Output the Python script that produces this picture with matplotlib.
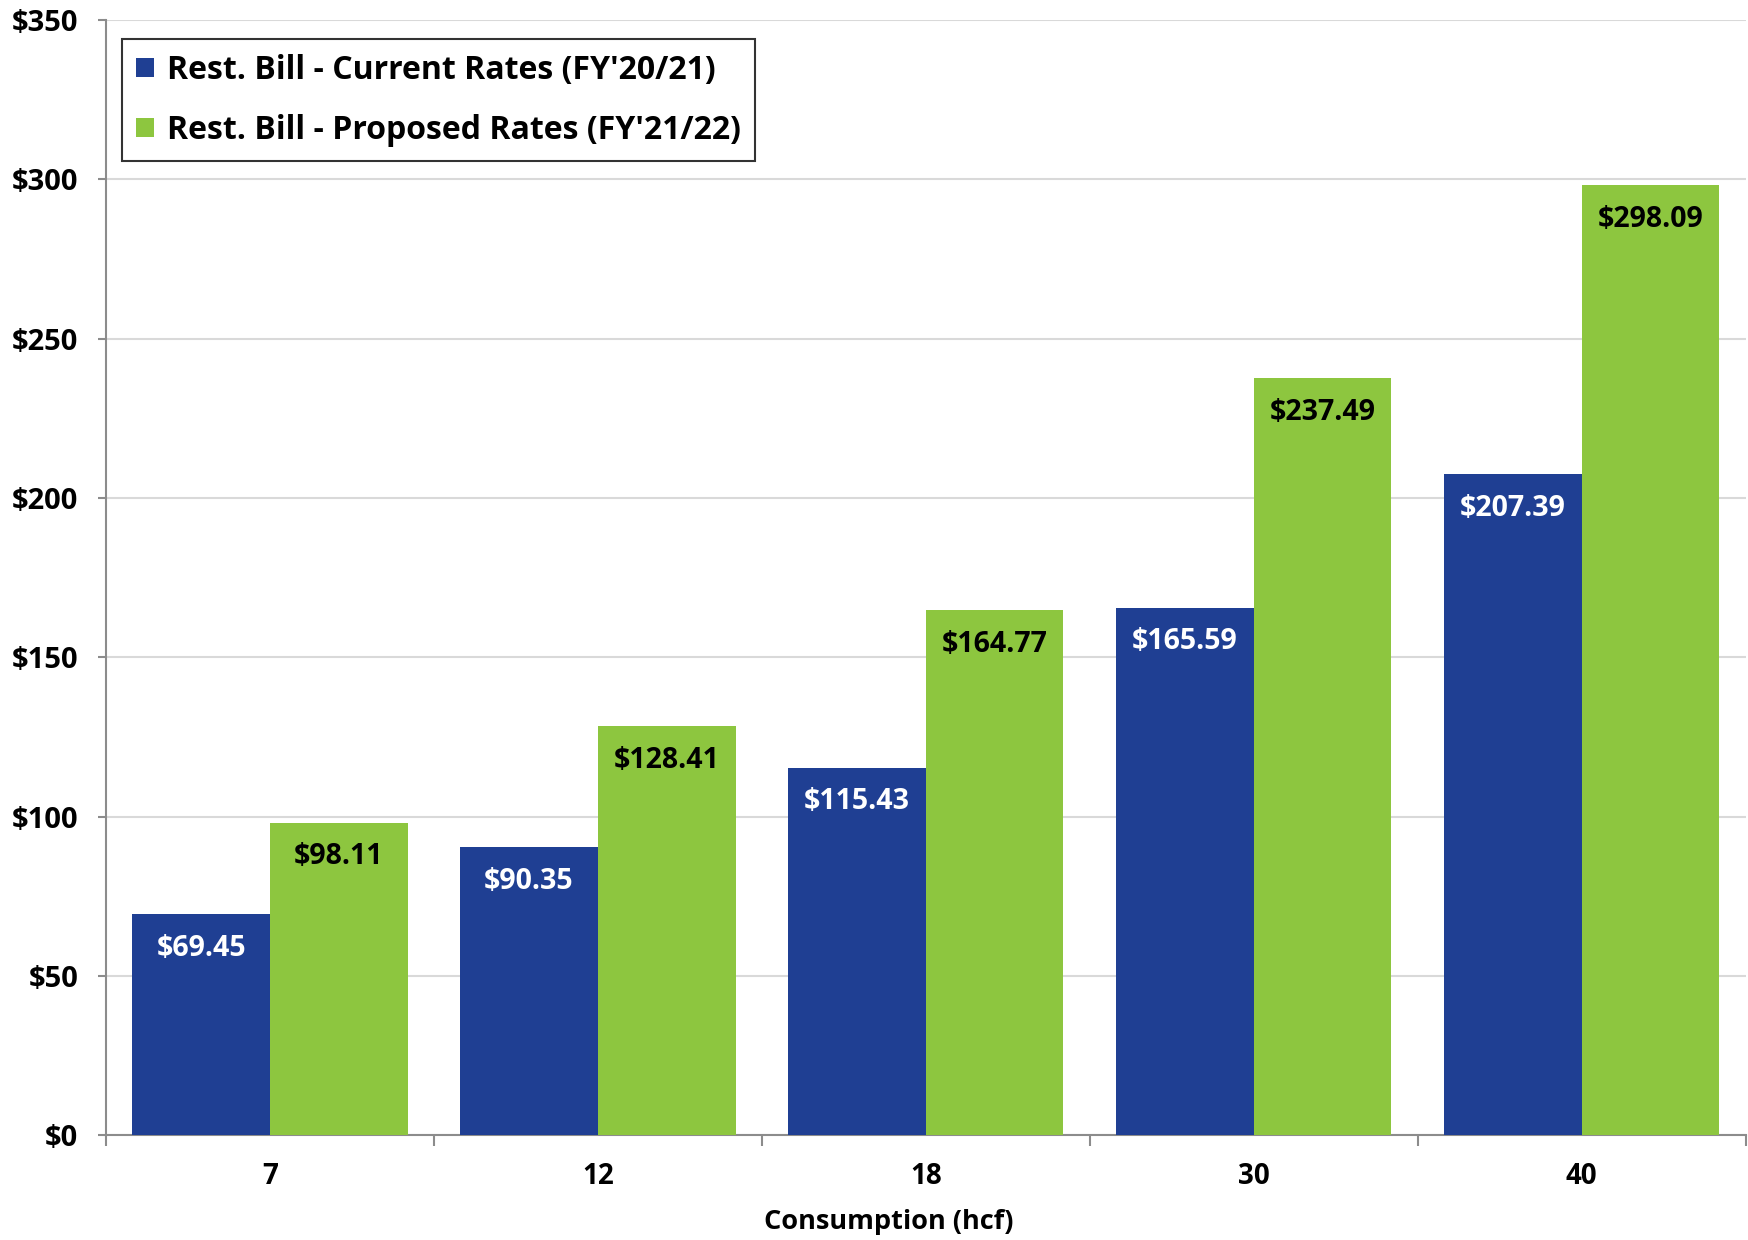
import numpy as np
import matplotlib
matplotlib.use('Agg')
import matplotlib.pyplot as plt

# data
categories = ['7', '12', '18', '30', '40']
current_rates = [69.45, 90.35, 115.43, 165.59, 207.39]
proposed_rates = [98.11, 128.41, 164.77, 237.49, 298.09]
series_names = ["Rest. Bill - Current Rates (FY'20/21)",
                "Rest. Bill - Proposed Rates (FY'21/22)"]
y_ticks = [0, 50, 100, 150, 200, 250, 300, 350]

blue = '#1F3F93'
green = '#8DC63F'
axis_grey = '#8C8C8C'

plt.rcParams['font.family'] = ['Open Sans', 'DejaVu Sans']
plt.rcParams['font.weight'] = 'bold'

fig = plt.figure(figsize=(17.49, 12.4), dpi=100)
ax = fig.add_axes([0.0606, 0.0843, 0.9374, 0.8997])

x = np.arange(len(categories))
w = 0.42
b1 = ax.bar(x - w / 2, current_rates, w, color=blue, label=series_names[0], zorder=3)
b2 = ax.bar(x + w / 2, proposed_rates, w, color=green, label=series_names[1], zorder=3)

for bars, vals, col in [(b1, current_rates, 'white'), (b2, proposed_rates, 'black')]:
    for rect, v in zip(bars, vals):
        ax.annotate(f'${v:.2f}', (rect.get_x() + rect.get_width() / 2, v),
                    xytext=(0, -34), textcoords='offset pixels',
                    ha='center', va='center', color=col,
                    fontsize=20.5, fontweight='bold', zorder=4)

ax.set_xlim(-0.5, len(categories) - 0.5)
ax.set_ylim(0, 350)
ax.set_yticks(y_ticks)
ax.set_yticklabels([f'${t}' for t in y_ticks])
ax.yaxis.grid(True, color='#D9D9D9', linewidth=1.5, zorder=0)

# category labels between boundary ticks
ax.set_xticks(np.arange(len(categories) + 1) - 0.5)
ax.set_xticklabels([])
ax.set_xticks(x, minor=True)
ax.set_xticklabels(categories, minor=True)
ax.tick_params(axis='x', which='major', length=8, width=1.5, color=axis_grey, direction='out')
ax.tick_params(axis='x', which='minor', length=0, pad=19, labelsize=20)
ax.tick_params(axis='y', length=6, width=1.5, color=axis_grey, labelsize=21, pad=14)

for s in ['top', 'right']:
    ax.spines[s].set_visible(False)
for s in ['left', 'bottom']:
    ax.spines[s].set_color(axis_grey)
    ax.spines[s].set_linewidth(1.5)

ax.set_xlabel('Consumption (hcf)', fontsize=19.5, fontweight='bold')
ax.xaxis.set_label_coords(0.4776, -0.066)

leg = ax.legend(loc='upper left', bbox_to_anchor=(0.0, 0.997), fontsize=23,
                frameon=True, fancybox=False, edgecolor='black',
                handlelength=0.55, handleheight=0.55, handletextpad=0.4,
                labelspacing=0.85, borderpad=0.45)
leg.get_frame().set_linewidth(1.5)
for t in leg.get_texts():
    t.set_fontweight('bold')

fig.savefig('out.png', dpi=100)
